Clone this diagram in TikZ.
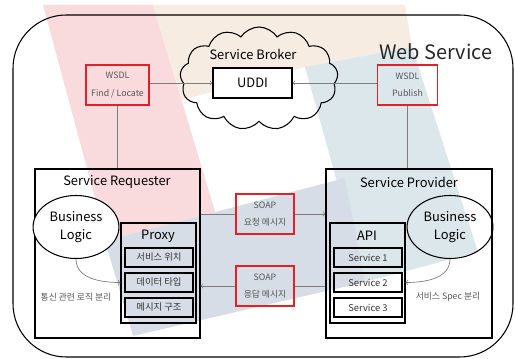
\documentclass[tikz,border=0pt]{standalone}
\usepackage{fontspec}
\setmainfont{Noto Sans CJK KR}
\usetikzlibrary{shapes.symbols,shapes.geometric,positioning}
\definecolor{wsred}{RGB}{226,32,38}
\definecolor{wsgray}{RGB}{125,125,125}
\definecolor{wstext}{RGB}{85,85,85}
\definecolor{bandpink}{RGB}{249,219,222}
\definecolor{bandbeige}{RGB}{246,236,226}
\definecolor{bandblue}{RGB}{220,231,236}
\definecolor{bandslate}{RGB}{215,221,231}

\begin{document}
\begin{tikzpicture}[x=0.3cm, y=0.3cm, >=to,
  titlefont/.style={font=\fontsize{11}{13}\selectfont},
  notefont/.style={font=\fontsize{7.5}{9}\selectfont, text=wstext},
  redbox/.style={draw=wsred, line width=1.1pt, minimum height=1.2cm,
    align=center, text=wstext, font=\fontsize{7.5}{9}\selectfont},
  framebox/.style={draw, line width=0.9pt},
  slotbox/.style={draw, line width=1.3pt, minimum width=2.04cm,
    minimum height=0.57cm, text=black!80, font=\fontsize{8}{9}\selectfont},
  logic/.style={ellipse, draw, line width=0.9pt, minimum width=2.46cm,
    minimum height=1.89cm, align=center, titlefont},
  link/.style={draw=wsgray, line width=0.6pt}]
  \useasboundingbox (0,0) rectangle (51.5,35.9);

  % background bands
  \fill[bandpink] (4.3,35.4) -- (15.3,35.4) -- (22,13.1) -- (10.8,11.3) -- cycle;
  \fill[bandbeige] (15.3,35.4) -- (40.5,35.4) -- (41.2,31.2) -- (30.5,29.2) -- (18.2,25.9) -- cycle;
  \fill[bandblue] (30.5,29.2) -- (41.2,31.2) -- (47.8,10.7) -- (36.5,7.7) -- cycle;
  \fill[bandslate] (10.5,11.8) -- (34.5,18.1) -- (36.5,7.7) -- (13.3,2.3) -- cycle;

  \draw[line width=0.9pt, rounded corners=1.6cm] (1.3,34.4) rectangle (51.3,0.2);

  \node[font=\fontsize{17}{20}\selectfont, text=black!85] (webservice) at (43.6,30.7) {Web Service};

  % broker
  \node[cloud, draw, line width=0.9pt, cloud puffs=13, cloud puff arc=115, aspect=1.53,
    minimum width=4.74cm, minimum height=3.09cm] (broker) at (25.9,28.05) {};
  \node[titlefont] (brokertitle) at (25.3,30.5) {Service Broker};
  \node[framebox, fill=white, titlefont, minimum width=2.37cm, minimum height=0.9cm] (uddi) at (25.25,27.6) {UDDI};

  \node[redbox, minimum width=1.89cm] (wsdlfind) at (11.75,27.4) {WSDL\\[6pt]Find / Locate};
  \node[redbox, minimum width=1.8cm] (wsdlpub) at (40.75,27.4) {WSDL\\[6pt]Publish};

  % requester
  \node[framebox, minimum width=4.95cm, minimum height=5.07cm] (requester) at (11.75,10.55) {};
  \node[titlefont] (reqtitle) at (11.7,17.7) {Service Requester};
  \node[logic, fill=white] (reqlogic) at (7.6,13.2) {Business\\[2pt]Logic};
  \node[framebox, minimum width=2.25cm, minimum height=3cm] (proxy) at (15.85,8.6) {};
  \node[titlefont] (proxytitle) at (15.8,12.3) {Proxy};
  \node[slotbox] (location) at (15.9,10.15) {서비스 위치};
  \node[slotbox] (datatype) at (15.9,7.65) {데이터 타입};
  \node[slotbox] (msgform) at (15.9,5.15) {메시지 구조};
  \node[notefont] (reqnote) at (7.6,6.2) {통신 관련 로직 분리};

  % provider
  \node[framebox, minimum width=4.98cm, minimum height=5.07cm] (provider) at (40.9,10.55) {};
  \node[titlefont] (provtitle) at (40.9,17.7) {Service Provider};
  \node[logic] (provlogic) at (45,13.2) {Business\\[2pt]Logic};
  \node[framebox, minimum width=2.25cm, minimum height=3cm] (api) at (36.75,8.6) {};
  \node[titlefont] (apititle) at (36.7,12.3) {API};
  \node[slotbox] (serviceone) at (36.8,10.15) {Service 1};
  \node[slotbox] (servicetwo) at (36.8,7.65) {Service 2};
  \node[slotbox] (servicethree) at (36.8,5.15) {Service 3};
  \node[notefont] (provnote) at (44.8,6.2) {서비스 Spec 분리};

  \node[redbox, minimum width=1.74cm] (soapreq) at (26.5,14.5) {SOAP\\[5pt]요청 메시지};
  \node[redbox, minimum width=1.74cm] (soapresp) at (26.5,7.3) {SOAP\\[5pt]응답 메시지};

  \draw[link, ->] (wsdlfind.east |- uddi.west) -- (uddi.west);
  \draw[link, ->] (wsdlpub.west |- uddi.east) -- (uddi.east);
  \draw[link] (wsdlfind.south) -- (wsdlfind.south |- requester.north);
  \draw[link] (wsdlpub.south) -- (wsdlpub.south |- provider.north);
  \draw[link] (requester.east |- soapreq.west) -- (soapreq.west);
  \draw[link, ->] (soapreq.east) -- (soapreq.east -| provider.west);
  \draw[link] (provider.west |- soapresp.east) -- (soapresp.east);
  \draw[link, ->] (soapresp.west) -- (soapresp.west -| requester.east);
  \draw[link, ->] (reqlogic.south) to[out=-90, in=180] (proxy.west |- datatype);
  \draw[link, ->] (provlogic.south) to[out=-90, in=0] (api.east |- servicetwo);
\end{tikzpicture}
\end{document}
